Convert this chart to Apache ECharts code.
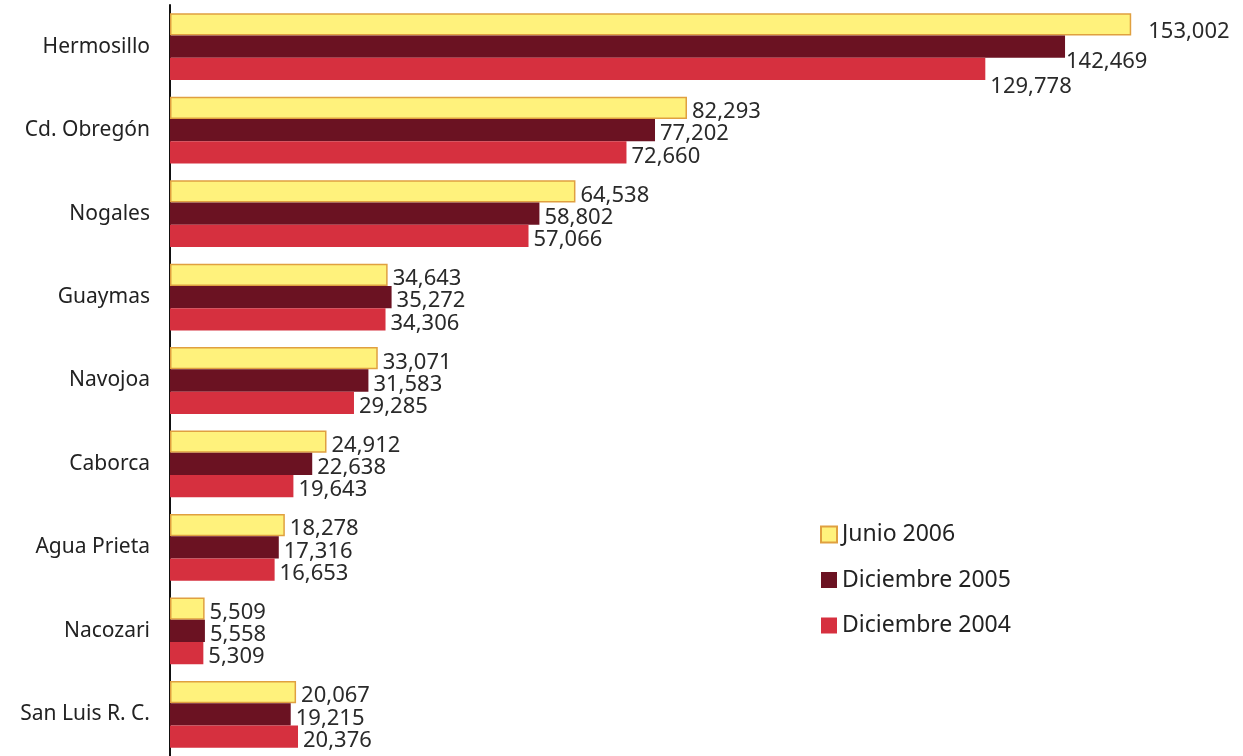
<!DOCTYPE html>
<html>
<head>
<meta charset="utf-8">
<script src="https://cdn.jsdelivr.net/npm/echarts@6/dist/echarts.min.js"></script>
<style>
  html, body { margin: 0; padding: 0; background: #fff; }
  #chart { width: 1243px; height: 756px; }
</style>
</head>
<body>
<div id="chart"></div>
<script>
const cities = ['Hermosillo', 'Cd. Obregón', 'Nogales', 'Guaymas', 'Navojoa', 'Caborca', 'Agua Prieta', 'Nacozari', 'San Luis R. C.'];
const junio2006 = [153002, 82293, 64538, 34643, 33071, 24912, 18278, 5509, 20067];
const diciembre2005 = [142469, 77202, 58802, 35272, 31583, 22638, 17316, 5558, 19215];
const diciembre2004 = [129778, 72660, 57066, 34306, 29285, 19643, 16653, 5309, 20376];

const font = 'Noto Sans';

// first category's labels are nudged apart like in the original
const withFirstOffset = (vals, offset) =>
  vals.map((v, i) => i === 0 ? { value: v, label: { offset: offset } } : v);

const makeSeries = (name, data, color, border) => ({
  name: name,
  type: 'bar',
  data: data,
  itemStyle: {
    color: color,
    borderColor: border || color,
    borderWidth: border ? 1.5 : 0,
  },
  label: {
    show: true,
    position: 'right',
    distance: 5,
    offset: [0, 4],
    fontFamily: font,
    fontSize: 22,
    color: '#2a2a2a',
    formatter: (p) => p.value.toLocaleString('en-US'),
  },
});

const chart = echarts.init(document.getElementById('chart'));
chart.setOption({
  animation: false,
  grid: { left: 170, right: 5, top: 5, height: 751.5 },
  legend: {
    orient: 'vertical',
    left: 820,
    top: 523,
    padding: 0,
    icon: 'rect',
    itemWidth: 16,
    itemHeight: 16,
    itemGap: 22.5,
    textStyle: { fontFamily: font, fontSize: 23, color: '#222' },
    data: ['Junio 2006', 'Diciembre 2005', 'Diciembre 2004'],
  },
  xAxis: { type: 'value', min: 0, max: 170000, show: false },
  yAxis: {
    type: 'category',
    inverse: true,
    data: cities,
    axisLine: { lineStyle: { color: '#111', width: 2 } },
    axisTick: { show: false },
    axisLabel: { margin: 20, fontFamily: font, fontSize: 21, color: '#222' },
  },
  series: [
    makeSeries('Junio 2006', withFirstOffset(junio2006, [12, 7]), '#fff27c', '#e0a040'),
    makeSeries('Diciembre 2005', withFirstOffset(diciembre2005, [-4, 15]), '#6b1222'),
    makeSeries('Diciembre 2004', withFirstOffset(diciembre2004, [0, 18]), '#d6303f'),
  ].map((s, i) => i === 0 ? Object.assign(s, { barGap: '0%', barCategoryGap: '20%' }) : s),
});
</script>
</body>
</html>
